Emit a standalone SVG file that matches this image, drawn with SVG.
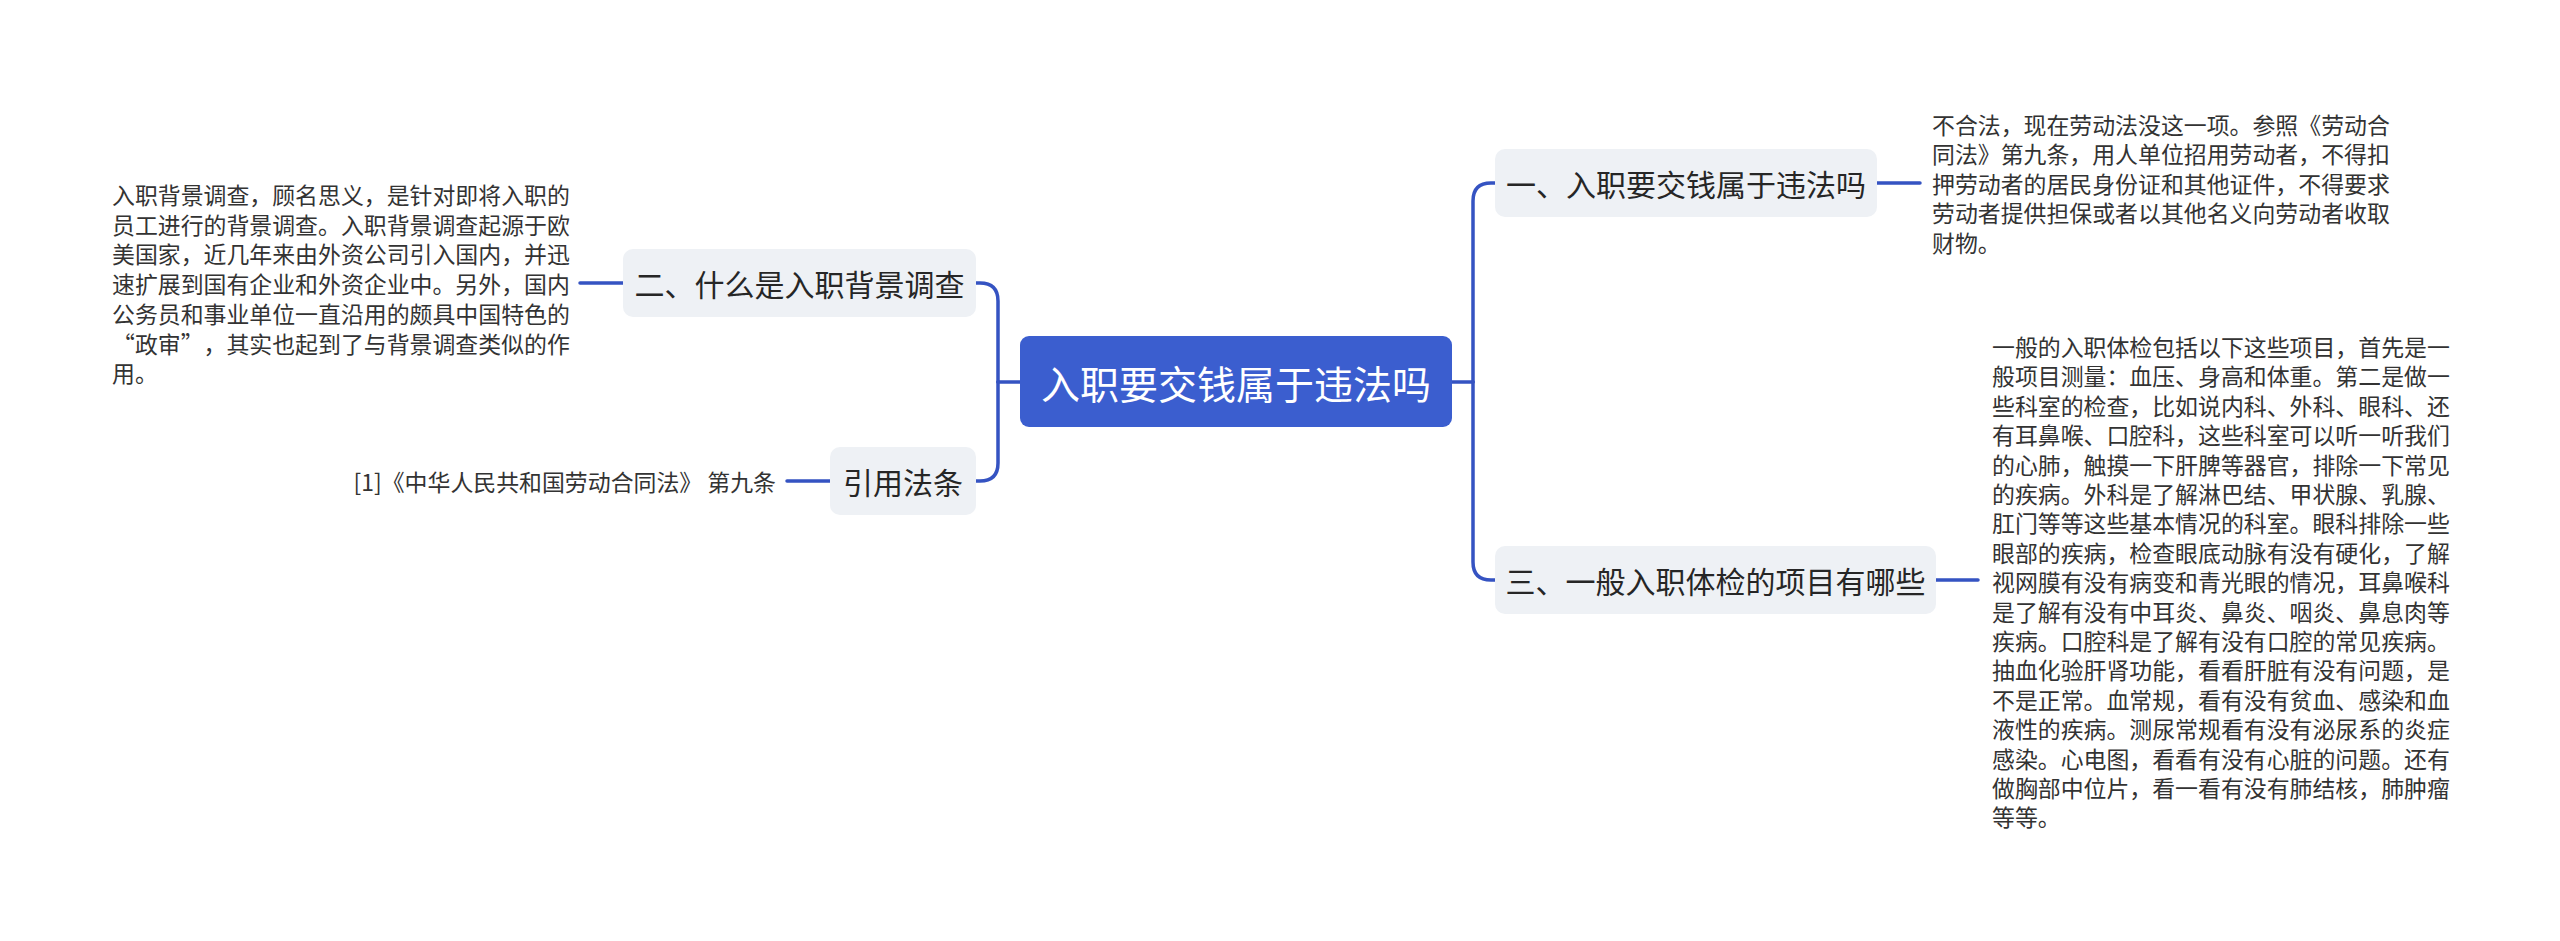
<svg xmlns="http://www.w3.org/2000/svg" width="2560" height="941" viewBox="0 0 2560 941">
<style>
text{font-family:"Noto Sans CJK SC","Noto Sans",sans-serif;text-spacing-trim:space-all;}
.conn{fill:none;stroke:#3553c2;stroke-width:3.5;stroke-linecap:round;}
.node{fill:#eef1f5;}
.nt{font-size:30px;fill:#262626;text-anchor:middle;dominant-baseline:central;}
.leaf{font-size:22.9px;fill:#333333;dominant-baseline:central;}
</style>
<rect width="2560" height="941" fill="#ffffff"/>
<g id="connectors">
<path class="conn" d="M1452,382 H1473"/>
<path class="conn" d="M1473,382 V201 Q1473,183 1491,183 H1495"/>
<path class="conn" d="M1473,382 V562 Q1473,580 1491,580 H1495"/>
<path class="conn" d="M1020,382 H998"/>
<path class="conn" d="M998,382 V301 Q998,283 980,283 H976"/>
<path class="conn" d="M998,382 V463 Q998,481 980,481 H976"/>
<path class="conn" d="M1877,183 H1920"/>
<path class="conn" d="M1936,580 H1978"/>
<path class="conn" d="M623,283 H580"/>
<path class="conn" d="M830,481 H787"/>
</g>
<g id="root">
<rect x="1020" y="336" width="432" height="91" rx="9" fill="#3b5ecf"/>
<text x="1236" y="382" font-size="39" fill="#ffffff" text-anchor="middle" dominant-baseline="central">入职要交钱属于违法吗</text>
</g>
<g id="n1">
<rect class="node" x="1495" y="149" width="382" height="68" rx="10"/>
<text class="nt" x="1686" y="183">一、入职要交钱属于违法吗</text>
</g>
<g id="n3">
<rect class="node" x="1495" y="546" width="441" height="68" rx="10"/>
<text class="nt" x="1715.5" y="580">三、一般入职体检的项目有哪些</text>
</g>
<g id="n2">
<rect class="node" x="623" y="249" width="353" height="68" rx="10"/>
<text class="nt" x="799.5" y="283">二、什么是入职背景调查</text>
</g>
<g id="n4">
<rect class="node" x="830" y="447" width="146" height="68" rx="10"/>
<text class="nt" x="903" y="481">引用法条</text>
</g>
<g id="leaf1">
<text class="leaf" x="1932" y="124">不合法，现在劳动法没这一项。参照《劳动合</text>
<text class="leaf" x="1932" y="153.4">同法》第九条，用人单位招用劳动者，不得扣</text>
<text class="leaf" x="1932" y="182.8">押劳动者的居民身份证和其他证件，不得要求</text>
<text class="leaf" x="1932" y="212.2">劳动者提供担保或者以其他名义向劳动者收取</text>
<text class="leaf" x="1932" y="241.6">财物。</text>
</g>
<g id="leaf3">
<text class="leaf" x="1992" y="346">一般的入职体检包括以下这些项目，首先是一</text>
<text class="leaf" x="1992" y="375.4">般项目测量：血压、身高和体重。第二是做一</text>
<text class="leaf" x="1992" y="404.8">些科室的检查，比如说内科、外科、眼科、还</text>
<text class="leaf" x="1992" y="434.2">有耳鼻喉、口腔科，这些科室可以听一听我们</text>
<text class="leaf" x="1992" y="463.6">的心肺，触摸一下肝脾等器官，排除一下常见</text>
<text class="leaf" x="1992" y="493">的疾病。外科是了解淋巴结、甲状腺、乳腺、</text>
<text class="leaf" x="1992" y="522.4">肛门等等这些基本情况的科室。眼科排除一些</text>
<text class="leaf" x="1992" y="551.8">眼部的疾病，检查眼底动脉有没有硬化，了解</text>
<text class="leaf" x="1992" y="581.2">视网膜有没有病变和青光眼的情况，耳鼻喉科</text>
<text class="leaf" x="1992" y="610.6">是了解有没有中耳炎、鼻炎、咽炎、鼻息肉等</text>
<text class="leaf" x="1992" y="640">疾病。口腔科是了解有没有口腔的常见疾病。</text>
<text class="leaf" x="1992" y="669.4">抽血化验肝肾功能，看看肝脏有没有问题，是</text>
<text class="leaf" x="1992" y="698.8">不是正常。血常规，看有没有贫血、感染和血</text>
<text class="leaf" x="1992" y="728.2">液性的疾病。测尿常规看有没有泌尿系的炎症</text>
<text class="leaf" x="1992" y="757.6">感染。心电图，看看有没有心脏的问题。还有</text>
<text class="leaf" x="1992" y="787">做胸部中位片，看一看有没有肺结核，肺肿瘤</text>
<text class="leaf" x="1992" y="816.4">等等。</text>
</g>
<g id="leaf2">
<text class="leaf" x="112" y="194">入职背景调查，顾名思义，是针对即将入职的</text>
<text class="leaf" x="112" y="223.7">员工进行的背景调查。入职背景调查起源于欧</text>
<text class="leaf" x="112" y="253.4">美国家，近几年来由外资公司引入国内，并迅</text>
<text class="leaf" x="112" y="283.1">速扩展到国有企业和外资企业中。另外，国内</text>
<text class="leaf" x="112" y="312.8">公务员和事业单位一直沿用的颇具中国特色的</text>
<text class="leaf" x="112" y="342.5">“政审”，其实也起到了与背景调查类似的作</text>
<text class="leaf" x="112" y="372.2">用。</text>
</g>
<g id="leaf4">
<text class="leaf" x="776" y="481" text-anchor="end">[1]《中华人民共和国劳动合同法》 第九条</text>
</g>
</svg>
